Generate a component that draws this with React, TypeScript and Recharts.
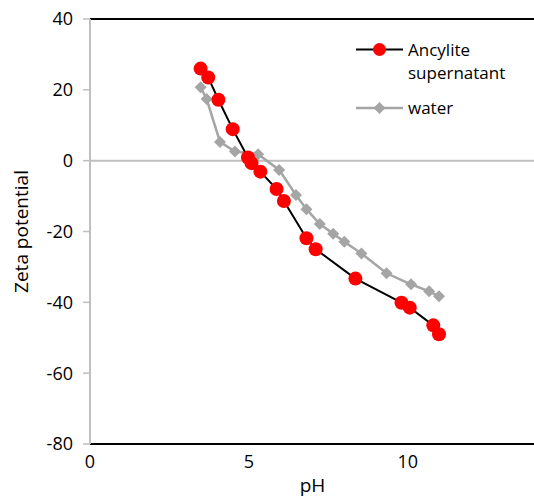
import React from "react";
import {
  LineChart,
  Line,
  XAxis,
  YAxis,
  ReferenceLine,
  Legend,
} from "recharts";

// pH vs zeta potential
const ancylitePH = [3.48, 3.72, 4.04, 4.49, 4.97, 5.08, 5.36, 5.87, 6.1, 6.81, 7.1, 8.35, 9.8, 10.06, 10.8, 10.98];
const ancyliteZeta = [26.0, 23.5, 17.2, 8.9, 0.9, -0.7, -3.1, -8.0, -11.4, -21.9, -25.0, -33.3, -40.1, -41.5, -46.5, -49.0];

const waterPH = [3.48, 3.67, 4.09, 4.56, 5.29, 5.95, 6.48, 6.81, 7.23, 7.65, 8.0, 8.54, 9.33, 10.1, 10.67, 10.98];
const waterZeta = [20.7, 17.4, 5.3, 2.6, 1.8, -2.6, -9.7, -13.7, -17.9, -20.6, -22.9, -26.2, -31.8, -34.9, -36.9, -38.3];

const xTicks = [0, 5, 10];
const yTicks = [-80, -60, -40, -20, 0, 20, 40];

const ancylite = ancylitePH.map((ph, i) => ({ ph, zeta: ancyliteZeta[i] }));
const water = waterPH.map((ph, i) => ({ ph, zeta: waterZeta[i] }));

const FONT = "'Open Sans', sans-serif";
const RED = "#FF0000";
const GREY = "#A5A5A5";
const AXIS_GREY = "#BFBFBF";

function Diamond({ cx, cy }: { cx?: number; cy?: number }) {
  if (cx == null || cy == null) return null;
  const s = 6;
  return (
    <polygon
      points={`${cx},${cy - s} ${cx + s},${cy} ${cx},${cy + s} ${cx - s},${cy}`}
      fill={GREY}
    />
  );
}

function ChartLegend() {
  return (
    <div style={{ fontFamily: FONT, fontSize: 17, color: "#000", lineHeight: "23px" }}>
      <div style={{ display: "flex", alignItems: "flex-start" }}>
        <svg width={52} height={23} style={{ flex: "none" }}>
          <line x1={0} y1={11.5} x2={47} y2={11.5} stroke="#000" strokeWidth={2} />
          <circle cx={23.5} cy={11.5} r={6.5} fill={RED} />
        </svg>
        <span>
          Ancylite
          <br />
          supernatant
        </span>
      </div>
      <div style={{ display: "flex", alignItems: "flex-start", marginTop: 12 }}>
        <svg width={52} height={23} style={{ flex: "none" }}>
          <line x1={0} y1={12} x2={47} y2={12} stroke={GREY} strokeWidth={2.5} />
          <polygon points="23.5,6 29.5,12 23.5,18 17.5,12" fill={GREY} />
        </svg>
        <span>water</span>
      </div>
    </div>
  );
}

export default function App() {
  return (
    <div style={{ position: "absolute", left: 0, top: 0, width: 534, height: 498, overflow: "hidden", background: "#fff" }}>
      <LineChart width={545} height={498} margin={{ top: 19, right: 10, bottom: 0, left: 0 }}>
        <XAxis
          type="number"
          dataKey="ph"
          domain={[0, 14]}
          ticks={xTicks}
          allowDataOverflow
          axisLine={{ stroke: "#000", strokeWidth: 2 }}
          tickLine={false}
          tickSize={0}
          tickMargin={11}
          height={54}
          tick={{ fill: "#000", fontSize: 18, fontFamily: FONT }}
          label={{ value: "pH", position: "insideBottom", offset: 6, fill: "#000", fontSize: 19, fontFamily: FONT }}
        />
        <YAxis
          type="number"
          domain={[-80, 40]}
          ticks={yTicks}
          width={90}
          axisLine={{ stroke: AXIS_GREY, strokeWidth: 2 }}
          tickLine={{ stroke: AXIS_GREY, strokeWidth: 1.5 }}
          tickSize={7}
          tickMargin={10}
          tick={{ fill: "#000", fontSize: 18, fontFamily: FONT }}
          label={{ value: "Zeta potential", angle: -90, position: "center", dx: -24, fill: "#000", fontSize: 19, fontFamily: FONT }}
        />
        <ReferenceLine y={0} stroke={AXIS_GREY} strokeWidth={2} />
        <ReferenceLine y={40} stroke="#000" strokeWidth={2} />
        <Legend
          layout="vertical"
          align="center"
          verticalAlign="middle"
          content={() => <ChartLegend />}
          wrapperStyle={{ left: 356, top: 38, width: 180 }}
        />
        <Line
          data={water}
          dataKey="zeta"
          name="water"
          type="linear"
          stroke={GREY}
          strokeWidth={2.5}
          dot={(p: any) => <Diamond key={`w${p.index}`} cx={p.cx} cy={p.cy} />}
          activeDot={false}
          isAnimationActive={false}
        />
        <Line
          data={ancylite}
          dataKey="zeta"
          name="Ancylite supernatant"
          type="linear"
          stroke="#000"
          strokeWidth={2}
          dot={{ r: 7, fill: RED, stroke: "none" }}
          activeDot={false}
          isAnimationActive={false}
        />
      </LineChart>
    </div>
  );
}
